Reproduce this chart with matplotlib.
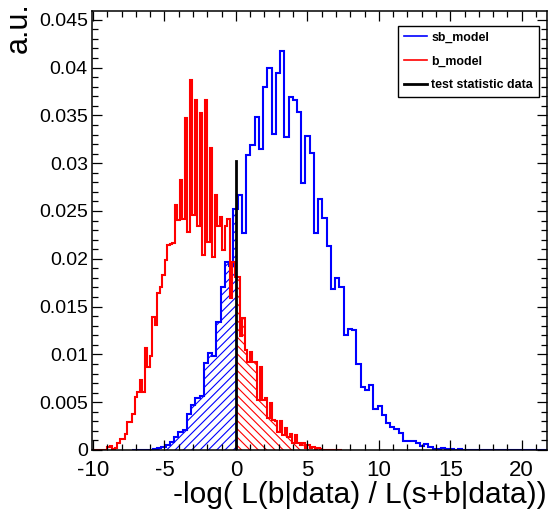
import numpy as np
import matplotlib
matplotlib.use("Agg")
import matplotlib.pyplot as plt
from matplotlib.ticker import MultipleLocator, FixedFormatter, FixedLocator
from matplotlib.lines import Line2D

plt.rcParams['font.family'] = ['Liberation Sans', 'DejaVu Sans']
plt.rcParams['axes.unicode_minus'] = False
plt.rcParams['hatch.linewidth'] = 0.8

# sb_model histogram (blue): first edge, bin width, bin contents
sb_lo = -7.29
sb_width = 0.2965
sb_vals = [0, 0.00005, 0, 0.00005, 0.00005, 0.0001, 0.0002, 0.00035, 0.0005, 0.00087,
           0.0014, 0.0019, 0.0021, 0.0038, 0.0047, 0.0054, 0.0056, 0.0091, 0.0101, 0.0098,
           0.0134, 0.0171, 0.0197, 0.0192, 0.0252, 0.0267, 0.0227, 0.0309, 0.0319, 0.0348,
           0.0315, 0.0380, 0.0400, 0.0331, 0.0394, 0.0417, 0.0327, 0.0369, 0.0366, 0.0354,
           0.0279, 0.0328, 0.0311, 0.0227, 0.0263, 0.0243, 0.0213, 0.0168, 0.0180, 0.0170,
           0.0120, 0.0127, 0.0126, 0.0090, 0.0066, 0.0063, 0.0068, 0.0043, 0.0046, 0.0037,
           0.0028, 0.0024, 0.0022, 0.0018, 0.00097, 0.00097, 0.00097, 0.0007, 0.00045, 0.0006,
           0.00028, 0.00014, 0.00014, 0.0002, 0.0001, 0.00014, 0.00005, 0.0001, 0, 0.00005,
           0, 0, 0, 0, 0, 0, 0, 0, 0, 0,
           0, 0, 0, 0, 0, 0, 0, 0]

# b_model histogram (red)
b_lo = -10.07
b_width = 0.1752
b_vals = [0, 0, 0, 0, 0, 0, 0.00035, 0.0004, 0.0001, 0.0002,
          0.0007, 0.0012, 0.0012, 0.0017, 0.0029, 0.0029, 0.0038, 0.0055, 0.0061, 0.0073,
          0.0061, 0.0107, 0.0087, 0.0098, 0.0139, 0.0131, 0.0164, 0.0171, 0.0183, 0.0199,
          0.0214, 0.0215, 0.0216, 0.0256, 0.0241, 0.0282, 0.0242, 0.0347, 0.0228, 0.0387,
          0.0246, 0.0366, 0.0234, 0.0352, 0.0204, 0.0366, 0.0218, 0.0316, 0.0202, 0.0267,
          0.0234, 0.0244, 0.0209, 0.0234, 0.0242, 0.0159, 0.0197, 0.0181, 0.0181, 0.0119,
          0.0138, 0.0105, 0.0092, 0.0103, 0.0092, 0.0092, 0.0052, 0.0087, 0.0052, 0.0054,
          0.0033, 0.0049, 0.0031, 0.0030, 0.0019, 0.0030, 0.0016, 0.0023, 0.0014, 0.0017,
          0.0007, 0.0016, 0.0007, 0.0005, 0.0007, 0.0002, 0.0005, 0.0002, 0.0003, 0.0001,
          0.0002, 0.0001, 0.00005, 0, 0.00005, 0, 0, 0, 0, 0]

# observed test statistic and height of its marker line
t_data = 0.0
t_height = 0.0302

x_ticks = [-10, -5, 0, 5, 10, 15, 20]
y_ticks = [0, 0.005, 0.01, 0.015, 0.02, 0.025, 0.03, 0.035, 0.04, 0.045]
y_labels = ['0', '0.005', '0.01', '0.015', '0.02', '0.025', '0.03', '0.035', '0.04', '0.045']

sb_vals = np.array(sb_vals)
b_vals = np.array(b_vals)
sb_edges = sb_lo + sb_width * np.arange(len(sb_vals) + 1)
b_edges = b_lo + b_width * np.arange(len(b_vals) + 1)

fig = plt.figure(figsize=(5.48, 5.14), dpi=100)
ax = fig.add_axes([92 / 548, 1 - 450 / 514, 455 / 548, 439.3 / 514])

# shaded tails
sb_he = np.append(sb_edges[sb_edges < t_data], t_data)
ax.stairs(sb_vals[:len(sb_he) - 1], sb_he, fill=True, facecolor='none',
          edgecolor='#0000ff', hatch='////', lw=0)
b_he = np.insert(b_edges[b_edges > t_data], 0, t_data)
ax.stairs(b_vals[-(len(b_he) - 1):], b_he, fill=True, facecolor='none',
          edgecolor='#ff0000', hatch='\\\\\\\\', lw=0)

ax.stairs(sb_vals, sb_edges, color='#0000ff', lw=1.5)
ax.stairs(b_vals, b_edges, color='#ff0000', lw=1.5)
ax.plot([t_data, t_data], [0, t_height], color='black', lw=2)

ax.set_xlim(b_edges[0], sb_edges[-1])
ax.set_ylim(0, 0.04595)

ax.xaxis.set_major_locator(FixedLocator(x_ticks))
ax.xaxis.set_minor_locator(MultipleLocator(1))
ax.yaxis.set_major_locator(FixedLocator(y_ticks))
ax.yaxis.set_major_formatter(FixedFormatter(y_labels))
ax.yaxis.set_minor_locator(MultipleLocator(0.001))
ax.tick_params(which='both', direction='in', top=True, right=True, width=0.9)
ax.tick_params(which='major', length=7.5)
ax.tick_params(which='minor', length=4)
ax.tick_params(axis='x', labelsize=16, pad=7.5)
ax.tick_params(axis='y', labelsize=14, pad=3)
for s in ax.spines.values():
    s.set_linewidth(1.1)

ax.set_xlabel('-log( L(b|data) / L(s+b|data))', fontsize=21.5, loc='right', labelpad=0)
fig.text(0.035, 1 - 2 / 514, 'a.u.', rotation=90, va='top', ha='center', fontsize=22)

handles = [Line2D([], [], color='#0000ff', lw=1.2), Line2D([], [], color='#ff0000', lw=1.2),
           Line2D([], [], color='black', lw=2)]
leg = ax.legend(handles, ['sb_model', 'b_model', 'test statistic data'],
                loc='upper right', bbox_to_anchor=(0.982, 0.965), borderaxespad=0,
                prop={'weight': 'bold', 'size': 8.9}, fancybox=False, edgecolor='black',
                framealpha=1, handlelength=1.85, handletextpad=0.4, labelspacing=0.95,
                borderpad=0.45)
leg.get_frame().set_linewidth(1.0)

fig.savefig('out.png', dpi=100)
